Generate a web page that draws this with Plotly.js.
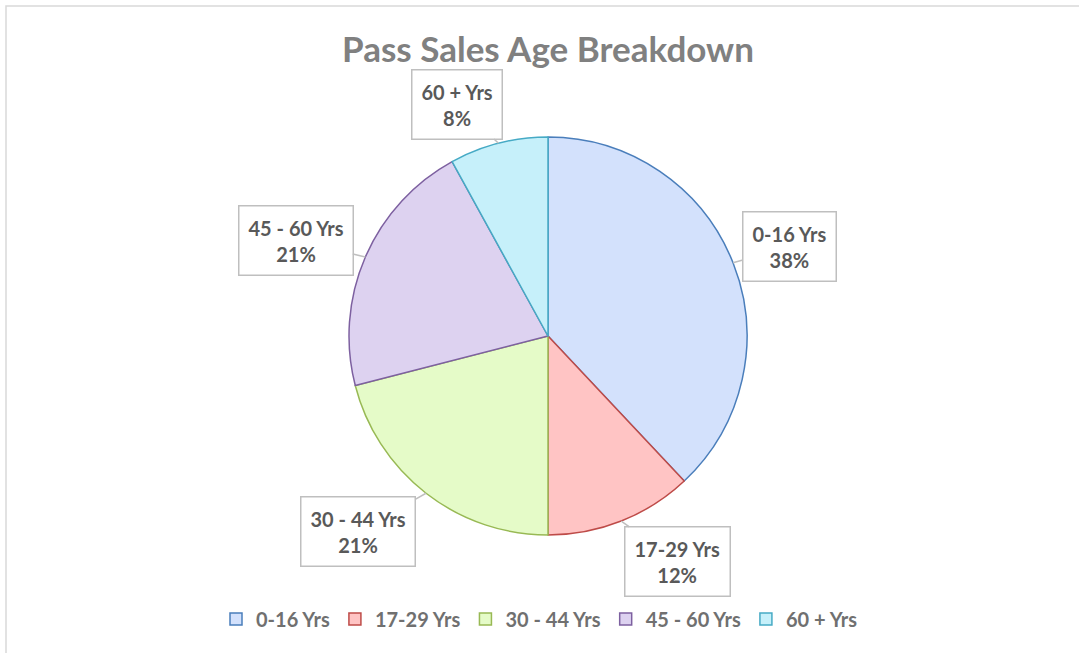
<!DOCTYPE html>
<html>
<head>
<meta charset="utf-8">
<script src="https://cdn.plot.ly/plotly-3.0.1.min.js"></script>
<style>
  html, body { margin: 0; padding: 0; background: #fff; }
  #chart { width: 1079px; height: 653px; }
</style>
</head>
<body>
<div id="chart"></div>
<script>
// data
const categories = ["0-16 Yrs", "17-29 Yrs", "30 - 44 Yrs", "45 - 60 Yrs", "60 + Yrs"];
const shares = [38, 12, 21, 21, 8];
const fillColors = ["#d3e1fc", "#ffc4c4", "#e5fbc8", "#ddd2f0", "#c6f0fa"];
const lineColors = ["#4a7ebb", "#be4b48", "#98b954", "#7d60a0", "#46aac5"];

const W = 1079;
const H = 653;
// pie centre and radius in pixels
const cx = 548;
const cy = 336;
const r = 199;
const labelDist = 262;
// small pixel nudges of the callout boxes (best-fit placement like the original)
const boxNudge = [[-2, 7], [33, -18], [-29, -12], [-12, 9], [-26, 22]];

let total = shares.reduce((a, b) => a + b, 0);

// callout boxes, placed at each slice's mid angle
let annotations = [];
let start = 0;
for (let i = 0; i < shares.length; i++) {
  let frac = shares[i] / total;
  let mid = (start + frac / 2) * 2 * Math.PI;
  start += frac;
  let sx = Math.sin(mid);
  let sy = -Math.cos(mid);
  let tipX = cx + r * sx;
  let tipY = cy + r * sy;
  let boxX = cx + labelDist * sx + boxNudge[i][0];
  let boxY = cy + labelDist * sy + boxNudge[i][1];
  annotations.push({
    xref: "paper",
    yref: "paper",
    x: tipX / W,
    y: 1 - tipY / H,
    ax: boxX - tipX,
    ay: boxY - tipY,
    text: categories[i] + "<br>" + Math.round(frac * 100) + "%",
    showarrow: true,
    arrowhead: 0,
    arrowwidth: 1.5,
    arrowcolor: "#bfbfbf",
    bordercolor: "#bfbfbf",
    borderwidth: 1.5,
    borderpad: 9,
    bgcolor: "#ffffff",
    font: { family: "Lato, 'Open Sans', sans-serif", size: 20, color: "#595959", weight: "bold" }
  });
}

let trace = {
  type: "pie",
  labels: categories,
  values: shares,
  sort: false,
  direction: "clockwise",
  rotation: 0,
  textinfo: "none",
  hoverinfo: "label+percent",
  marker: {
    colors: fillColors,
    line: { color: lineColors, width: 1.5 }
  },
  domain: {
    x: [(cx - r) / W, (cx + r) / W],
    y: [1 - (cy + r) / H, 1 - (cy - r) / H]
  }
};

let layout = {
  width: W,
  height: H,
  margin: { l: 0, r: 0, t: 0, b: 0 },
  paper_bgcolor: "#ffffff",
  title: {
    text: "Pass Sales Age Breakdown",
    x: 548 / W,
    xanchor: "center",
    y: 1 - 50 / H,
    yanchor: "middle",
    font: { family: "Lato, 'Open Sans', sans-serif", size: 35, color: "#808080", weight: "bold" }
  },
  showlegend: true,
  legend: {
    orientation: "h",
    x: 0.5,
    xanchor: "center",
    y: 1 - 619 / H,
    yanchor: "middle",
    itemwidth: 30,
    font: { family: "Lato, 'Open Sans', sans-serif", size: 20, color: "#707070", weight: "bold" }
  },
  annotations: annotations,
  shapes: [{
    type: "rect",
    xref: "paper",
    yref: "paper",
    x0: 6 / W,
    x1: 1.02,
    y0: -0.02,
    y1: 1 - 6 / H,
    line: { color: "#d9d9d9", width: 1.5 }
  }]
};

Plotly.newPlot("chart", [trace], layout, { displayModeBar: false, staticPlot: true });
</script>
</body>
</html>
